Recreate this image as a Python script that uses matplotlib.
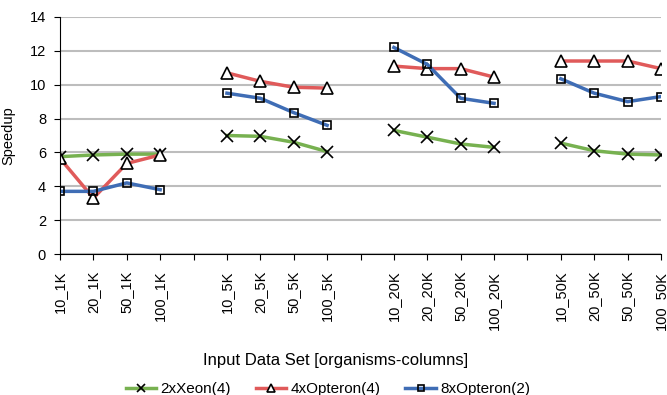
import numpy as np
import matplotlib
matplotlib.use("Agg")
import matplotlib.pyplot as plt

plt.rcParams['font.family'] = ['Liberation Sans', 'DejaVu Sans']

categories = ['10_1K', '20_1K', '50_1K', '100_1K', '',
              '10_5K', '20_5K', '50_5K', '100_5K', '',
              '10_20K', '20_20K', '50_20K', '100_20K', '',
              '10_50K', '20_50K', '50_50K', '100_50K']
nan = np.nan
xeon = [5.75, 5.85, 5.9, 5.9, nan,
        7.0, 6.95, 6.6, 6.05, nan,
        7.3, 6.9, 6.5, 6.3, nan,
        6.55, 6.1, 5.9, 5.85]
opteron4 = [5.65, 3.3, 5.35, 5.85, nan,
            10.7, 10.2, 9.85, 9.8, nan,
            11.1, 10.95, 10.95, 10.45, nan,
            11.4, 11.4, 11.4, 10.95]
opteron8 = [3.7, 3.7, 4.2, 3.8, nan,
            9.5, 9.2, 8.35, 7.6, nan,
            12.2, 11.2, 9.2, 8.9, nan,
            10.35, 9.5, 9.0, 9.3]

fig = plt.figure(figsize=(6.67, 3.95), dpi=100)
# plot area: x 60..661 px, y 17..254 px
ax = fig.add_axes([60 / 667, 1 - 254 / 395, 601 / 667, 237 / 395])

x = np.arange(len(categories))
ax.plot(x, xeon, color='#77b150', lw=2.5, marker='x', ms=8, mec='black', mew=1.2, label='2xXeon(4)')
ax.plot(x, opteron4, color='#e05a5a', lw=2.5, marker='^', ms=8, mec='black', mfc='white', mew=1.2, label='4xOpteron(4)')
ax.plot(x, opteron8, color='#3f6db5', lw=2.5, marker='s', ms=6, mec='black', mfc='none', mew=1.2, label='8xOpteron(2)')

ax.set_xlim(0, len(categories) - 1)
ax.set_ylim(0, 14)
ax.set_yticks(range(0, 15, 2))
ax.set_xticks(x)
ax.set_xticklabels(categories, rotation=90, fontsize=10.5)
ax.tick_params(axis='y', labelsize=10.5, length=4, pad=6, direction='out')
ax.tick_params(axis='x', length=4, pad=8, direction='out')
ax.grid(axis='y', color='#bdbdbd', lw=1.5)
ax.set_axisbelow(True)
for s in ['top', 'right']:
    ax.spines[s].set_visible(False)

fig.text(8 / 667, 1 - 136 / 395, 'Speedup', rotation=90, va='center', ha='center', fontsize=10.5)
fig.text(336 / 667, 1 - 360 / 395, 'Input Data Set [organisms-columns]', va='center', ha='center', fontsize=12)

fig.legend(loc='center', bbox_to_anchor=(328 / 667, 1 - 389 / 395), ncol=3, frameon=False,
           fontsize=11, handlelength=2.0, columnspacing=1.6, handletextpad=0.3, markerscale=0.8)

fig.savefig('out.png', dpi=100)
